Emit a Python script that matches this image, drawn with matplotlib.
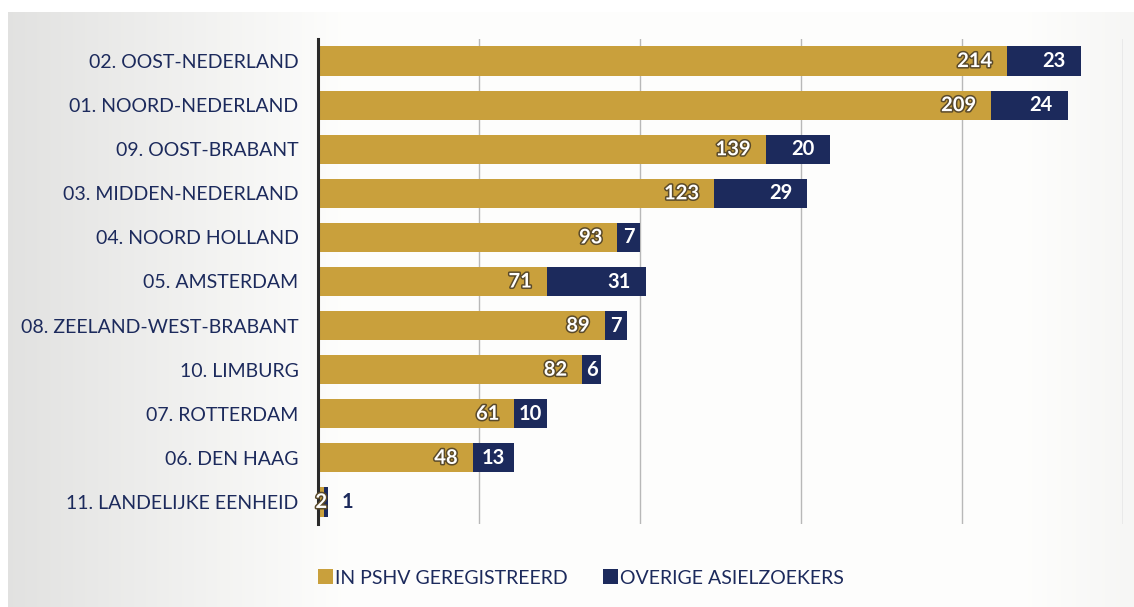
import numpy as np
import matplotlib.pyplot as plt
import matplotlib.patheffects as pe

regions = ['02. OOST-NEDERLAND', '01. NOORD-NEDERLAND', '09. OOST-BRABANT',
           '03. MIDDEN-NEDERLAND', '04. NOORD HOLLAND', '05. AMSTERDAM',
           '08. ZEELAND-WEST-BRABANT', '10. LIMBURG', '07. ROTTERDAM',
           '06. DEN HAAG', '11. LANDELIJKE EENHEID']
pshv = [214, 209, 139, 123, 93, 71, 89, 82, 61, 48, 2]
overig = [23, 24, 20, 29, 7, 31, 7, 6, 10, 13, 1]
series_names = ['IN PSHV GEREGISTREERD', 'OVERIGE ASIELZOEKERS']

gold = '#c9a03c'
navy = '#1c2a5c'
plt.rcParams['font.family'] = ['Lato', 'DejaVu Sans']

fig = plt.figure(figsize=(11.34, 6.07), dpi=100)
fig.patch.set_facecolor('white')

# greyish paper tone, darker towards the left edge
bg = fig.add_axes([0.007, 0, 0.993, 0.98], zorder=-10)
g = np.linspace(0, 1, 400)
tone = 0.885 + 0.11 * np.clip(g / 0.3, 0, 1) - 0.03 * np.clip((g - 0.9) / 0.1, 0, 1)
img = np.dstack([tone, tone, tone * 0.995]).repeat(2, axis=0)
bg.imshow(img, aspect='auto', extent=[0, 1, 0, 1])
bg.axis('off')

ax = fig.add_axes([318 / 1134, 1 - 524 / 607, (1123 - 318) / 1134, (524 - 39) / 607])
ax.patch.set_alpha(0)
y = np.arange(len(regions))
ax.barh(y, pshv, height=0.66, color=gold, label=series_names[0], zorder=2)
ax.barh(y, overig, left=pshv, height=0.66, color=navy, label=series_names[1], zorder=2)

ax.set_xlim(0, 250)
ax.set_ylim(len(regions) - 0.5, -0.5)
ax.set_xticks([50, 100, 150, 200, 250])
ax.grid(axis='x', color='#b8b8b8', lw=1, zorder=0)
ax.tick_params(axis='x', length=0, labelbottom=False)
ax.tick_params(axis='y', length=0, pad=14)
ax.set_yticks(y)
ax.set_yticklabels(regions, fontsize=14, color=navy)
for s in ['top', 'right', 'bottom']:
    ax.spines[s].set_visible(False)
ax.spines['left'].set_color('#2a2a2a')
ax.spines['left'].set_linewidth(2.2)
ax.spines['left'].set_zorder(3)

# px -> data units along x
px = 250 / (1123 - 318)
outline = [pe.withStroke(linewidth=2.2, foreground='#5a4a2a')]
lab = dict(va='center', fontsize=14.5, fontweight='bold', zorder=4)
for i in range(len(regions)):
    a, b = pshv[i], overig[i]
    if a >= 5:
        ax.text(a - 15 * px, i, str(a), ha='right', color='white',
                path_effects=outline, **lab)
    else:
        ax.text(a / 2, i, str(a), ha='center', color='white',
                path_effects=outline, **lab)
    if b >= 5:
        xc = max(a + b / 2, a + b - 27 * px)
        ax.text(xc, i, str(b), ha='center', color='white', **lab)
    else:
        ax.text(a + b + 14 * px, i, str(b), ha='left', color=navy, **lab)

fig.legend(loc='center', bbox_to_anchor=(581 / 1134, 1 - 578 / 607), ncol=2,
           frameon=False, fontsize=14, labelcolor=navy, handlelength=0.8,
           handleheight=0.8, handletextpad=0.1, columnspacing=1.8)

fig.savefig('out.png', dpi=100)
